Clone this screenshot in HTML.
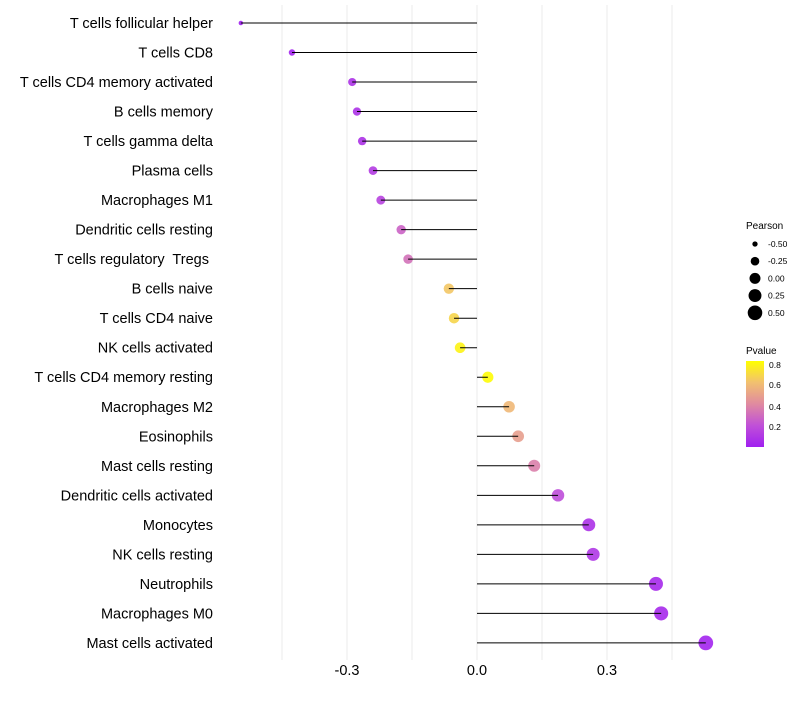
<!DOCTYPE html>
<html><head><meta charset="utf-8"><style>
body{margin:0;background:#fff;}
svg text{font-family:"Liberation Sans",sans-serif;white-space:pre;}
</style></head><body>
<svg id="chart" width="800" height="700" xmlns="http://www.w3.org/2000/svg">
<defs><linearGradient id="pg" x1="0" y1="1" x2="0" y2="0">
<stop offset="0" stop-color="#a020f0"/><stop offset="0.25" stop-color="#c050d8"/><stop offset="0.5" stop-color="#e08aa0"/><stop offset="0.75" stop-color="#f2c070"/><stop offset="1" stop-color="#ffff00"/></linearGradient></defs>
<g id="grid"></g><g id="marks"></g><g id="ylabels"></g><g id="xlabels"></g>
<g id="sizeleg"><text x="746" y="229" font-size="10" fill="#000">Pearson</text></g>
<g>
<text x="746" y="354" font-size="10" fill="#000">Pvalue</text>
<rect x="746" y="361" width="18" height="86" fill="url(#pg)"/>
<text x="769" y="368" font-size="8.5">0.8</text>
<text x="769" y="388" font-size="8.5">0.6</text>
<text x="769" y="410" font-size="8.5">0.4</text>
<text x="769" y="430" font-size="8.5">0.2</text>
</g>
</svg>
<script>
const cells=["T cells follicular helper","T cells CD8","T cells CD4 memory activated","B cells memory","T cells gamma delta","Plasma cells","Macrophages M1","Dendritic cells resting","T cells regulatory  Tregs ","B cells naive","T cells CD4 naive","NK cells activated","T cells CD4 memory resting","Macrophages M2","Eosinophils","Mast cells resting","Dendritic cells activated","Monocytes","NK cells resting","Neutrophils","Macrophages M0","Mast cells activated"];
const pearson=[-0.545,-0.427,-0.288,-0.277,-0.265,-0.240,-0.222,-0.175,-0.159,-0.065,-0.053,-0.039,0.025,0.074,0.095,0.132,0.187,0.258,0.268,0.413,0.425,0.528];
const pvalue=[0.0,0.02,0.08,0.08,0.08,0.12,0.15,0.28,0.33,0.65,0.7,0.8,0.83,0.6,0.5,0.38,0.2,0.08,0.1,0.04,0.04,0.02];
const xTicks=[-0.3,0,0.3];
const xTickLabels=["-0.3","0.0","0.3"];
const minorTicks=[-0.45,-0.15,0.15,0.45];
const sizeLegend=[-0.5,-0.25,0,0.25,0.5];
const NS="http://www.w3.org/2000/svg";
const X=v=>477+v*433.33;
const Y=i=>23+i*29.52;
const R=v=>Math.sqrt(Math.max(2,30+46*v));
const stops=[[0,[160,32,240]],[0.21,[192,80,216]],[0.42,[224,138,160]],[0.63,[242,192,112]],[0.84,[255,255,0]]];
function col(p){for(let k=1;k<stops.length;k++){if(p<=stops[k][0]||k==stops.length-1){const a=stops[k-1],b=stops[k];let t=(p-a[0])/(b[0]-a[0]);t=Math.max(0,Math.min(1,t));return "rgb("+a[1].map((c,j)=>Math.round(c+(b[1][j]-c)*t)).join(",")+")";}}}
function mk(t,at,parent){const e=document.createElementNS(NS,t);for(const k in at)e.setAttribute(k,at[k]);document.getElementById(parent).appendChild(e);return e;}
[...minorTicks,...xTicks].forEach(v=>{const l=mk("line",{x1:X(v),x2:X(v),y1:5,y2:660,stroke:"#ebebeb","stroke-width":1},"grid");

});
xTicks.forEach((v,i)=>{const t=mk("text",{x:X(v),y:675,"font-size":14.5,"text-anchor":"middle",fill:"#000"},"xlabels");t.textContent=xTickLabels[i];

});
cells.forEach((c,i)=>{
const t=mk("text",{x:213,y:Y(i)+5,"font-size":14.5,"text-anchor":"end",fill:"#000"},"ylabels");t.textContent=c;


const d=mk("circle",{cx:X(pearson[i]),cy:Y(i),r:R(pearson[i]),fill:col(pvalue[i]),"fill-opacity":0.9},"marks");


const l=mk("line",{x1:X(0),x2:X(pearson[i]),y1:Y(i),y2:Y(i),stroke:"#000","stroke-width":1},"marks");


});
sizeLegend.forEach((v,i)=>{const y=244+i*17.2;
const c=mk("circle",{cx:755,cy:y,r:R(v),fill:"#000"},"sizeleg");


const t=mk("text",{x:768,y:y+3,"font-size":8.5},"sizeleg");t.textContent=v.toFixed(2);

});
</script>
</body></html>
